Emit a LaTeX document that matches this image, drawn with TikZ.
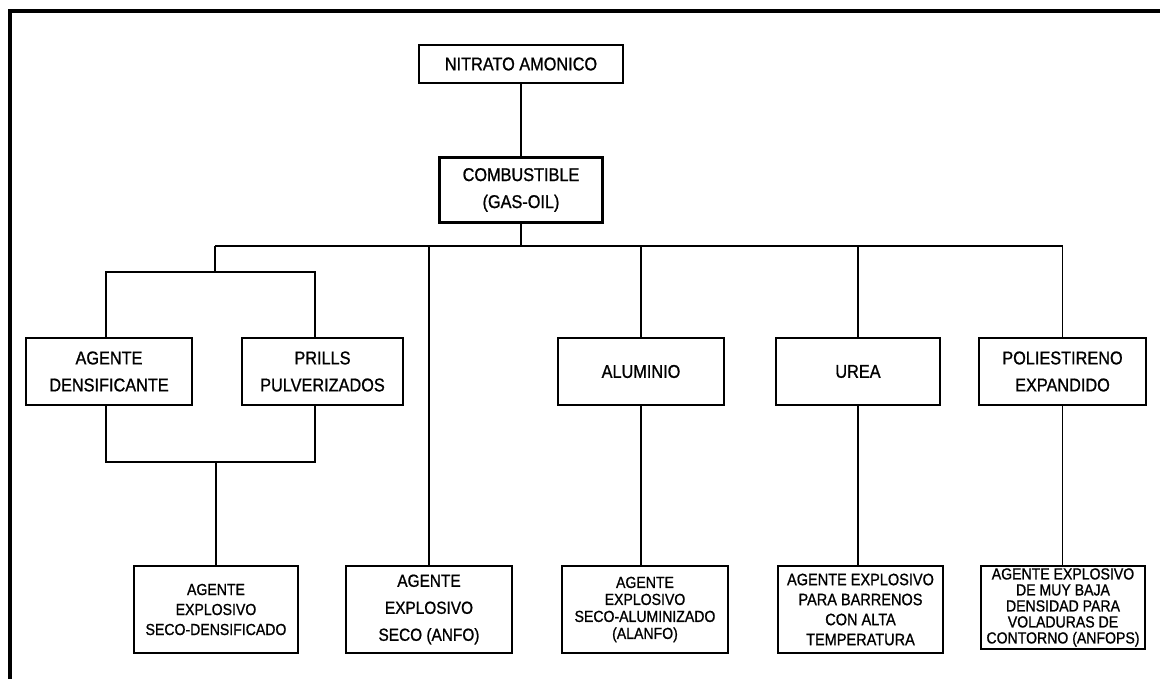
\documentclass[tikz,border=0pt]{standalone}
\usepackage{fontspec}
\setmainfont{Liberation Sans}[FakeStretch=0.88, FakeBold=1]
\usepackage{tikz}
\usetikzlibrary{calc}

\tikzset{
  box/.style={draw, line width=2.2pt, align=center, inner sep=0pt,
    font=\fontsize{18.5}{27}\selectfont},
  midbox/.style={box, minimum height=67pt},
  lowbox/.style={box, minimum height=87pt},
  link/.style={line width=1.6pt}
}

\begin{document}
\begin{tikzpicture}[x=1pt,y=-1pt]
\useasboundingbox (0,0) rectangle (1160,679);
% frame
\draw[line width=4pt] (9.5,679) -- (9.5,11.3) -- (1160,11.3);

% top
\node[box, minimum width=204pt, minimum height=38pt] (nitrato) at (521,64) {NITRATO AMONICO};
\node[box, minimum width=163pt, minimum height=65pt] (combust) at (521,190) {COMBUSTIBLE\\(GAS-OIL)};

% middle row
\node[midbox, minimum width=166pt] (densif) at (109,371.5) {AGENTE\\DENSIFICANTE};
\node[midbox, minimum width=161pt] (prills) at (322.5,371.5) {PRILLS\\PULVERIZADOS};
\node[midbox, minimum width=166pt] (alum) at (641,371.5) {ALUMINIO};
\node[midbox, minimum width=164pt] (urea) at (858,371.5) {UREA};
\node[midbox, minimum width=167pt] (polie) at (1062.5,371.5) {POLIESTIRENO\\EXPANDIDO};

% bottom row
\node[lowbox, minimum width=164pt, font=\fontsize{16}{20}\selectfont] (sdens) at (216,609.5)
  {AGENTE\\EXPLOSIVO\\SECO-DENSIFICADO};
\node[lowbox, minimum width=166pt, font=\fontsize{17.5}{27}\selectfont] (anfo) at (429,609.5)
  {AGENTE\\EXPLOSIVO\\SECO (ANFO)};
\node[lowbox, minimum width=166pt, font=\fontsize{16}{17}\selectfont] (alanfo) at (645,609.5)
  {AGENTE\\EXPLOSIVO\\SECO-ALUMINIZADO\\(ALANFO)};
\node[lowbox, minimum width=165pt, font=\fontsize{16.5}{20}\selectfont] (temp) at (860.5,609.5)
  {AGENTE EXPLOSIVO\\PARA BARRENOS\\CON ALTA\\TEMPERATURA};
\node[lowbox, minimum width=164pt, minimum height=83pt, font=\fontsize{16}{16}\selectfont] (anfops) at (1063,607.5)
  {AGENTE EXPLOSIVO\\DE MUY BAJA\\DENSIDAD PARA\\VOLADURAS DE\\CONTORNO (ANFOPS)};

% connectors
\coordinate (busL) at (215,246);
\coordinate (busR) at (1063,246);
\coordinate (jtopL) at (106,272);
\coordinate (jtopR) at (315,272);
\coordinate (jbotL) at (106,462);
\coordinate (jbotR) at (315,462);

\draw[link] (nitrato) -- (combust);
\draw[link] (combust) -- (combust |- busL);
\draw[link] (busL) -- (busR);
\draw[link] (busL) -- (busL |- jtopL);
\draw[link] (jtopL |- densif.north) -- (jtopL) -- (jtopR) -- (jtopR |- prills.north);
\draw[link] (jbotL |- densif.south) -- (jbotL) -- (jbotR) -- (jbotR |- prills.south);
\draw[link] (sdens) -- (sdens |- jbotL);
\draw[link] (anfo) -- (anfo |- busL);
\foreach \up/\down in {alum/alanfo, urea/temp, polie/anfops} {
  \draw[link] (\up) -- (\up |- busL);
  \draw[link] (\up.south) -- (\up.south |- \down.north);
}
\end{tikzpicture}
\end{document}
